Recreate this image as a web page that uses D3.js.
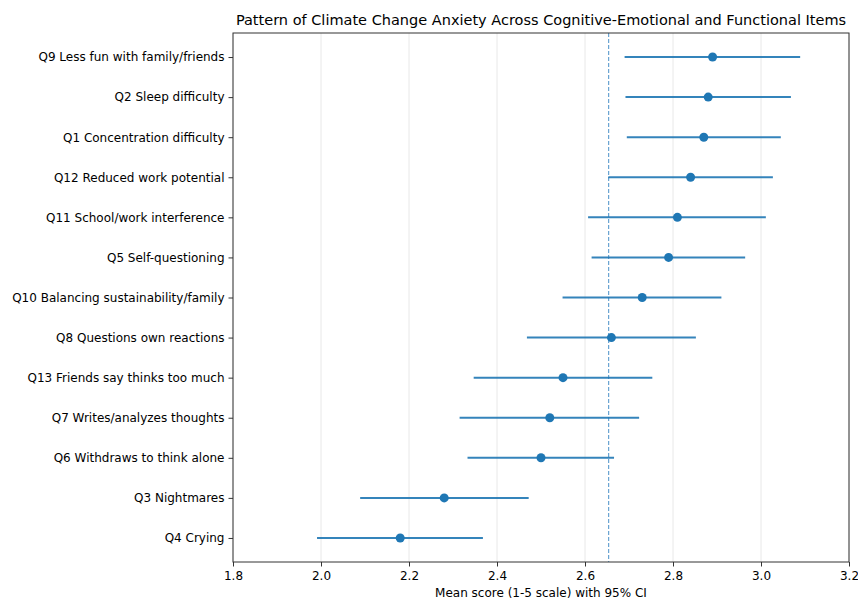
<!DOCTYPE html>
<html>
<head>
<meta charset="utf-8">
<script src="https://cdn.jsdelivr.net/npm/d3@7"></script>
<style>
  body { margin: 0; background: #fff; }
  text { font-family: "DejaVu Sans", sans-serif; fill: #000; }
</style>
</head>
<body>
<div id="chart"></div>
<script>
// items, top to bottom
var items = ["Q9 Less fun with family/friends", "Q2 Sleep difficulty", "Q1 Concentration difficulty",
  "Q12 Reduced work potential", "Q11 School/work interference", "Q5 Self-questioning",
  "Q10 Balancing sustainability/family", "Q8 Questions own reactions", "Q13 Friends say thinks too much",
  "Q7 Writes/analyzes thoughts", "Q6 Withdraws to think alone", "Q3 Nightmares", "Q4 Crying"];
var means = [2.89, 2.88, 2.87, 2.84, 2.81, 2.79, 2.73, 2.66, 2.55, 2.52, 2.50, 2.28, 2.18];
var ciLow = [2.690, 2.692, 2.695, 2.653, 2.607, 2.615, 2.549, 2.468, 2.347, 2.315, 2.333, 2.089, 1.991];
var ciHigh = [3.089, 3.068, 3.045, 3.027, 3.011, 2.964, 2.910, 2.852, 2.753, 2.723, 2.666, 2.472, 2.368];
var xTicks = [1.8, 2.0, 2.2, 2.4, 2.6, 2.8, 3.0, 3.2];

var width = 858, height = 600;
var margin = {top: 33, right: 9, bottom: 38, left: 233};
var w = width - margin.left - margin.right;
var h = height - margin.top - margin.bottom;

var svg = d3.select("#chart").append("svg")
  .attr("width", width)
  .attr("height", height);

var g = svg.append("g")
  .attr("transform", `translate(${margin.left},${margin.top})`);

var x = d3.scaleLinear().domain([1.8, 3.2]).range([0, w]);
// item 0 on top; pos = n-1-i  (matplotlib default 5% margins)
var n = items.length;
var y = d3.scaleLinear().domain([-0.6, n - 0.4]).range([h, 0]);
var yPos = function(i) { return y(n - 1 - i); };

// grid
g.selectAll(".grid").data(xTicks).join("line")
  .attr("x1", d => x(d)).attr("x2", d => x(d))
  .attr("y1", 0).attr("y2", h)
  .attr("stroke", "#e8e8e8").attr("stroke-width", 1);

// overall mean line
var overall = d3.mean(means);
g.append("line")
  .attr("x1", x(overall)).attr("x2", x(overall))
  .attr("y1", 0).attr("y2", h)
  .attr("stroke", "#4a90c8").attr("stroke-width", 1)
  .attr("stroke-dasharray", "4,2");

// error bars
g.selectAll(".ci").data(items).join("line")
  .attr("x1", (d, i) => x(ciLow[i])).attr("x2", (d, i) => x(ciHigh[i]))
  .attr("y1", (d, i) => yPos(i)).attr("y2", (d, i) => yPos(i))
  .attr("stroke", "#1f77b4").attr("stroke-width", 2).attr("opacity", 0.9);

g.selectAll(".dot").data(items).join("circle")
  .attr("cx", (d, i) => x(means[i]))
  .attr("cy", (d, i) => yPos(i))
  .attr("r", 4.5)
  .attr("fill", "#1f77b4");

// axes
var xAxis = d3.axisBottom(x).tickValues(xTicks).tickFormat(d3.format(".1f")).tickSize(4.5).tickPadding(5);
var gx = g.append("g").attr("transform", `translate(0,${h})`).call(xAxis);
gx.select(".domain").remove();
gx.selectAll("line").attr("stroke", "#333");
gx.selectAll("text").style("font-size", "12px");

var yAxis = d3.axisLeft(y).tickValues(d3.range(n)).tickFormat(d => items[n - 1 - d]).tickSize(4.5).tickPadding(4);
var gy = g.append("g").call(yAxis);
gy.select(".domain").remove();
gy.selectAll("line").attr("stroke", "#333");
gy.selectAll("text").style("font-size", "12px");

// frame
g.append("rect").attr("width", w).attr("height", h)
  .attr("fill", "none").attr("stroke", "#333").attr("stroke-width", 1);

// title and label
svg.append("text")
  .attr("x", margin.left + w / 2).attr("y", 25)
  .attr("text-anchor", "middle").style("font-size", "14.5px")
  .text("Pattern of Climate Change Anxiety Across Cognitive-Emotional and Functional Items");

svg.append("text")
  .attr("x", margin.left + w / 2).attr("y", 597)
  .attr("text-anchor", "middle").style("font-size", "12px")
  .text("Mean score (1-5 scale) with 95% CI");
</script>
</body>
</html>
